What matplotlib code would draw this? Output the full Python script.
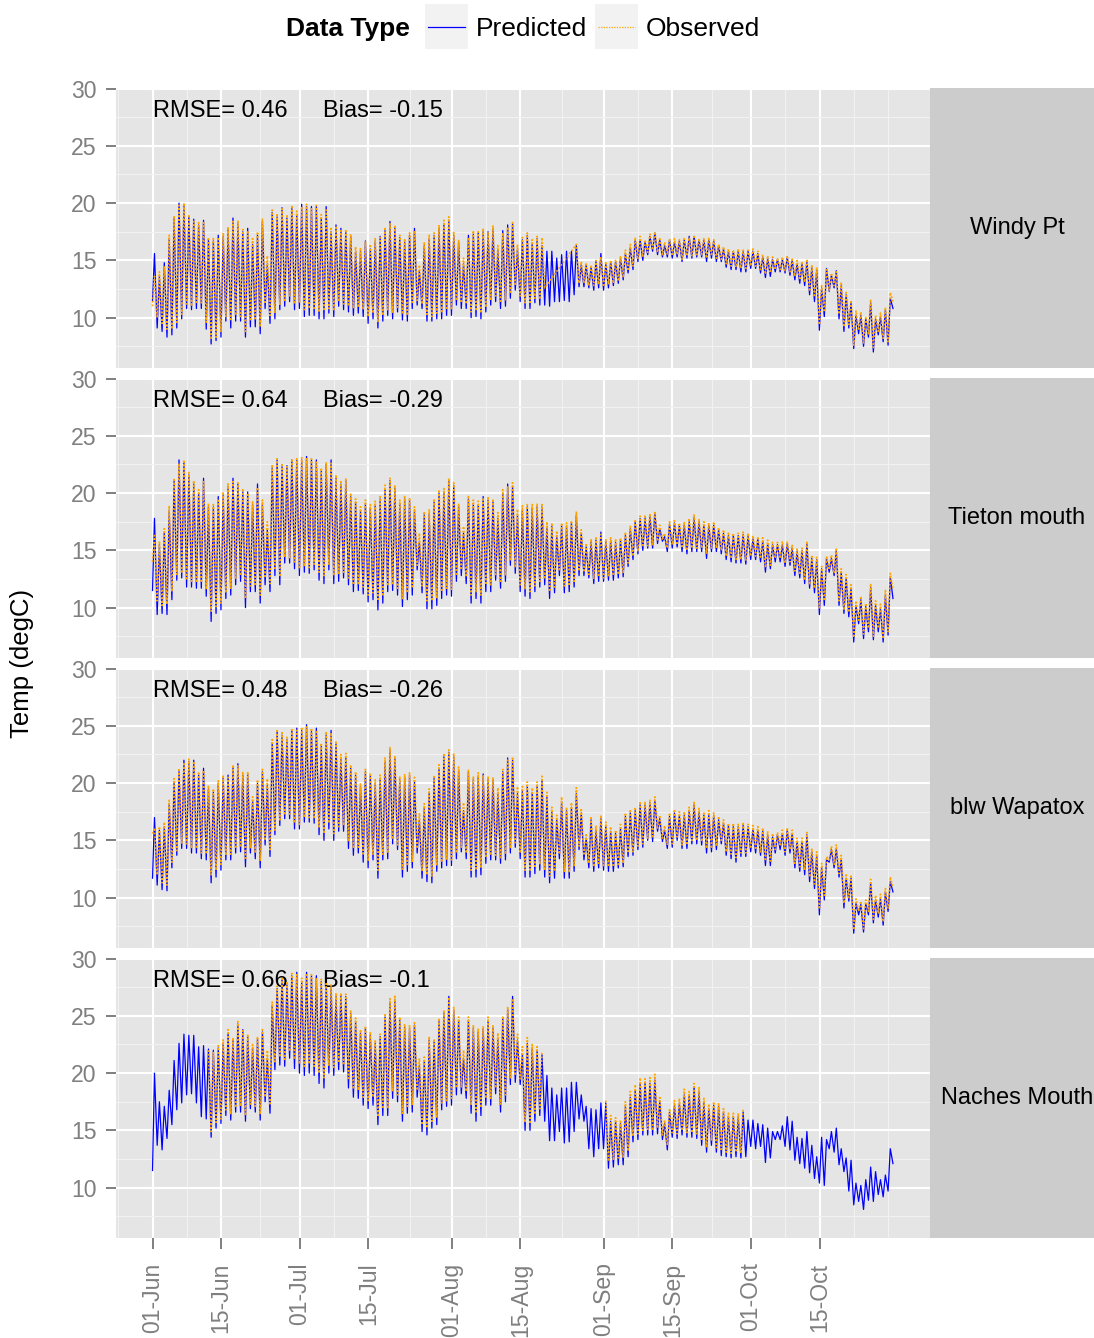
import numpy as np
import pandas as pd
import matplotlib
matplotlib.use("Agg")
import matplotlib.pyplot as plt
from matplotlib.ticker import FixedLocator

plt.rcParams['font.family'] = ['Liberation Sans', 'DejaVu Sans']

nan = np.nan

SITES = ["Windy Pt", "Tieton mouth", "blw Wapatox", "Naches Mouth"]
RMSE = [0.46, 0.64, 0.48, 0.66]
BIAS = [-0.15, -0.29, -0.26, -0.1]

# first reading of each record (01-Jun 00:00)
PRED_START = [11.5, 11.5, 11.7, 11.5]
OBS_START = [11.0, 14.0, 15.6, nan]

# daily highs / lows from 01-Jun to 30-Oct (degC)
windy_pred_max = [
    15.6, 13.6, 14.8, 16.9, 18.7, 20.0, 19.9, 18.8, 18.6, 18.1,
    18.5, 16.8, 16.7, 17.2, 17.1, 17.8, 18.7, 18.2, 17.5, 17.8,
    16.4, 17.2, 18.4, 14.7, 19.2, 18.8, 19.6, 18.7, 19.7, 19.0,
    19.9, 19.7, 19.7, 19.7, 18.7, 19.7, 17.5, 18.1, 17.8, 17.5,
    17.1, 15.8, 15.8, 16.7, 16.0, 16.7, 17.1, 17.6, 18.4, 17.8,
    17.0, 16.6, 17.2, 17.8, 14.1, 16.3, 16.9, 17.2, 17.8, 18.2,
    18.5, 17.2, 16.6, 14.7, 17.2, 17.3, 17.4, 17.5, 17.5, 17.8,
    15.9, 17.6, 18.1, 18.2, 16.0,
    16.8, 17.2, 16.5, 16.9, 16.3, 15.8, 15.8, 15.2, 15.5, 15.8,
    15.8, 16.3, 14.6, 14.6, 14.4, 14.9, 15.6, 14.7, 14.9, 14.9,
    15.2, 15.6, 16.1, 16.8, 16.8, 16.6, 17.1, 17.4, 16.8, 16.3,
    16.8, 16.6, 16.7, 16.8, 17.1, 17.1, 16.8, 16.8, 16.8, 16.7,
    16.3, 16.0, 15.8, 15.8, 15.8, 15.8, 15.8, 15.8, 15.6, 15.3,
    15.2, 15.1, 15.1, 15.1, 15.3, 15.0, 14.7, 14.7, 14.9, 14.4,
    14.2, 12.6, 14.3, 13.7, 14.1, 12.8, 12.0, 11.3, 10.2, 10.2,
    9.9, 11.3, 9.9, 10.1, 10.7, 11.7]
windy_pred_min = [
    9.1, 8.8, 8.3, 8.5, 9.1, 9.9, 10.8, 10.7, 10.8, 10.8,
    9.0, 7.7, 8.0, 8.3, 9.7, 9.1, 9.7, 9.7, 8.3, 9.2,
    9.2, 8.6, 10.8, 9.5, 9.9, 10.7, 11.0, 11.4, 10.7, 10.8,
    10.1, 10.2, 10.2, 9.9, 9.9, 10.4, 10.1, 11.0, 10.7, 10.5,
    10.2, 10.4, 10.1, 9.5, 9.9, 9.1, 9.7, 10.2, 9.9, 10.5,
    9.8, 9.7, 10.8, 11.1, 10.8, 9.7, 9.7, 9.9, 9.9, 10.2,
    10.2, 11.1, 10.8, 10.8, 10.0, 10.1, 9.9, 10.5, 11.1, 11.4,
    10.8, 11.0, 11.7, 12.4, 11.4,
    10.8, 10.8, 11.3, 11.1, 11.1, 11.0, 11.4, 11.4, 11.5, 11.4,
    12.0, 12.7, 12.7, 12.6, 12.4, 12.6, 12.4, 12.6, 12.8, 13.0,
    13.3, 13.9, 14.2, 14.9, 15.0, 15.5, 15.8, 15.5, 15.3, 15.3,
    15.2, 15.3, 14.9, 15.2, 15.2, 15.3, 15.3, 14.9, 15.2, 14.9,
    14.9, 14.4, 14.2, 14.2, 14.0, 14.0, 14.3, 14.3, 13.9, 13.5,
    13.6, 14.0, 14.0, 13.9, 13.7, 13.3, 13.0, 12.8, 12.0, 11.4,
    8.9, 10.1, 12.3, 12.6, 9.9, 8.8, 9.1, 7.3, 8.6, 7.5,
    8.3, 7.0, 8.5, 7.9, 7.6, 10.8]
windy_obs_max = [
    13.6, 14.0, 14.5, 17.2, 18.9, 19.8, 20.0, 19.0, 18.4, 18.3,
    18.3, 17.0, 16.9, 17.0, 17.4, 17.9, 18.4, 18.5, 17.7, 17.6,
    16.9, 17.5, 18.6, 15.4, 19.4, 19.1, 19.5, 19.0, 19.8, 19.3,
    19.7, 19.9, 19.5, 19.8, 19.0, 19.4, 17.9, 18.0, 17.6, 17.7,
    17.3, 16.2, 16.1, 16.6, 16.4, 16.9, 17.0, 17.9, 18.2, 18.1,
    17.2, 16.9, 17.4, 17.6, 14.6, 16.6, 17.2, 17.4, 18.1, 18.5,
    18.8, 17.5, 16.8, 15.2, 17.0, 17.6, 17.5, 17.8, 17.4, 18.0,
    16.3, 17.4, 17.9, 18.3, 16.4,
    17.0, 17.4, 16.8, 17.1, 17.0, nan, nan, nan, nan, nan,
    nan, 16.4, 14.9, 14.8, 14.6, 15.0, 15.3, 14.9, 15.0, 15.1,
    15.4, 15.9, 16.4, 17.0, 17.1, 16.8, 17.3, 17.5, 17.0, 16.6,
    16.9, 16.9, 16.8, 16.9, 17.0, 17.2, 16.9, 16.9, 17.0, 16.8,
    16.4, 16.2, 16.0, 15.9, 16.0, 15.9, 15.9, 16.0, 15.8, 15.5,
    15.4, 15.3, 15.2, 15.3, 15.4, 15.2, 15.0, 14.9, 15.1, 14.6,
    14.4, 12.8, 14.2, 13.9, 14.0, 13.1, 12.2, 11.5, 10.6, 10.5,
    10.1, 11.6, 10.2, 10.4, 10.9, 12.2]
windy_obs_min = [
    10.0, 9.5, 9.0, 9.0, 9.6, 10.3, 11.2, 11.0, 11.2, 11.3,
    9.6, 8.1, 8.3, 8.8, 10.1, 9.7, 10.2, 10.1, 8.8, 9.7,
    9.8, 9.2, 11.2, 10.2, 10.4, 11.1, 11.4, 11.9, 11.2, 11.3,
    10.7, 10.8, 10.7, 10.5, 10.6, 10.8, 10.6, 11.4, 11.2, 11.0,
    10.8, 10.9, 10.7, 10.1, 10.4, 9.6, 10.2, 10.7, 10.4, 10.9,
    10.3, 10.2, 11.2, 11.5, 11.2, 10.3, 10.1, 10.4, 10.4, 10.7,
    10.7, 11.5, 11.3, 11.2, 10.5, 10.6, 10.4, 10.9, 11.5, 11.9,
    11.3, 11.5, 12.1, 12.8, 11.9,
    11.3, 11.2, 11.7, 11.6, 12.6, nan, nan, nan, nan, nan,
    nan, 13.0, 13.0, 12.8, 12.8, 12.9, 12.7, 12.9, 13.0, 13.2,
    13.5, 14.1, 14.5, 15.1, 15.3, 15.7, 15.9, 15.7, 15.5, 15.5,
    15.4, 15.5, 15.1, 15.4, 15.4, 15.5, 15.5, 15.2, 15.4, 15.2,
    15.1, 14.7, 14.5, 14.4, 14.3, 14.3, 14.5, 14.5, 14.2, 13.8,
    13.9, 14.2, 14.2, 14.1, 14.0, 13.6, 13.3, 13.1, 12.3, 11.8,
    9.4, 10.5, 12.4, 12.8, 10.3, 9.2, 9.4, 7.6, 8.9, 7.8,
    8.6, 7.4, 8.8, 8.2, 7.9, 11.4]

tieton_pred_max = [
    17.8, 15.5, 16.5, 18.5, 21.1, 22.9, 22.7, 21.6, 20.8, 20.0,
    21.3, 18.8, 18.8, 19.7, 19.8, 20.6, 21.3, 20.8, 20.1, 20.1,
    19.0, 20.8, 19.0, 16.8, 22.2, 22.9, 22.3, 22.4, 22.9, 22.9,
    22.9, 23.2, 22.9, 22.9, 21.9, 22.5, 22.9, 21.3, 20.8, 21.1,
    19.7, 19.2, 18.4, 19.1, 18.7, 19.0, 19.5, 20.4, 21.1, 20.4,
    19.1, 19.5, 19.4, 18.4, 15.8, 18.1, 18.2, 19.2, 20.0, 20.1,
    21.1, 20.7, 18.8, 16.5, 19.5, 19.1, 19.0, 19.7, 19.4, 19.2,
    17.8, 20.0, 20.8, 20.6, 18.1,
    18.5, 18.8, 18.7, 18.8, 18.8, 17.1, 17.1, 16.3, 17.2, 17.1,
    17.4, 18.1, 16.5, 15.3, 15.8, 15.9, 16.6, 15.8, 15.9, 15.7,
    15.9, 16.3, 16.9, 17.5, 17.8, 17.8, 18.0, 18.3, 16.9, 16.2,
    17.3, 17.4, 17.2, 17.2, 17.5, 17.9, 17.5, 17.2, 17.2, 17.2,
    16.8, 16.5, 16.3, 16.3, 16.3, 16.4, 16.3, 16.0, 16.0, 15.8,
    15.6, 15.5, 15.5, 15.5, 15.6, 15.2, 14.9, 15.0, 15.6, 14.3,
    14.2, 13.4, 14.3, 14.3, 15.0, 13.1, 12.6, 11.7, 10.2, 10.7,
    10.1, 11.8, 10.2, 9.9, 11.1, 12.7]
tieton_pred_min = [
    9.4, 9.5, 9.4, 10.7, 12.4, 12.6, 11.8, 11.8, 11.7, 11.7,
    11.0, 8.8, 9.5, 9.8, 10.8, 11.1, 12.0, 12.3, 10.0, 11.4,
    11.4, 10.4, 12.0, 11.4, 12.8, 12.0, 13.9, 13.9, 13.4, 12.8,
    13.1, 13.0, 13.3, 12.4, 12.1, 13.3, 12.1, 12.3, 12.6, 12.0,
    11.4, 11.5, 11.2, 10.5, 10.7, 9.8, 10.4, 11.4, 11.5, 11.1,
    10.1, 10.7, 11.1, 13.3, 11.3, 9.9, 9.9, 10.2, 10.8, 11.1,
    11.0, 12.3, 12.8, 12.1, 10.4, 10.8, 10.4, 11.4, 11.4, 12.4,
    11.7, 12.3, 13.7, 13.0, 11.4,
    11.0, 10.8, 11.4, 11.8, 12.0, 10.8, 11.3, 12.8, 11.3, 11.4,
    11.8, 12.8, 12.8, 12.6, 12.1, 12.3, 12.3, 12.4, 12.4, 12.6,
    12.7, 13.6, 14.2, 14.7, 15.0, 15.2, 15.2, 15.6, 15.8, 14.9,
    15.2, 15.3, 14.9, 14.7, 14.9, 14.9, 14.9, 14.3, 14.9, 14.9,
    14.7, 14.2, 14.0, 13.9, 13.9, 13.8, 14.2, 14.2, 14.0, 13.1,
    13.4, 14.0, 14.0, 13.6, 13.7, 12.8, 12.6, 12.1, 11.7, 11.3,
    9.4, 10.2, 13.1, 12.8, 10.2, 9.5, 9.2, 7.0, 8.6, 7.3,
    7.9, 7.2, 7.9, 7.0, 7.6, 10.8]
tieton_obs_max = [
    16.3, 15.8, 16.9, 18.9, 21.3, 22.6, 22.9, 21.8, 21.1, 20.3,
    21.0, 19.1, 19.0, 19.5, 20.1, 20.8, 21.0, 20.9, 20.4, 20.0,
    19.3, 20.5, 19.4, 17.5, 22.5, 23.0, 22.6, 22.3, 23.0, 23.0,
    23.1, 23.0, 23.0, 22.7, 22.2, 22.7, 22.6, 21.6, 21.0, 21.3,
    20.0, 19.5, 18.8, 19.4, 19.0, 19.3, 19.7, 20.7, 21.3, 20.7,
    19.4, 19.7, 19.6, 18.8, 16.5, 18.4, 18.6, 19.5, 20.3, 20.4,
    21.3, 20.9, 19.1, 17.1, 19.8, 19.4, 19.3, 19.6, 19.7, 19.5,
    18.3, 20.3, 20.6, 20.9, 18.6,
    18.9, 19.0, 19.0, 19.1, 19.0, 17.5, 17.4, 16.7, 17.4, 17.4,
    17.6, 18.4, 16.8, 15.6, 16.0, 16.2, 16.4, 16.0, 16.1, 16.0,
    16.1, 16.6, 17.1, 17.7, 18.0, 18.1, 18.2, 18.4, 17.2, 16.5,
    17.5, 17.6, 17.4, 17.5, 17.8, 18.1, 17.7, 17.5, 17.4, 17.5,
    17.0, 16.8, 16.6, 16.5, 16.5, 16.6, 16.5, 16.3, 16.2, 16.1,
    15.9, 15.7, 15.7, 15.8, 15.8, 15.5, 15.2, 15.2, 15.8, 14.6,
    14.4, 13.6, 14.5, 14.6, 15.2, 13.4, 12.9, 12.0, 10.6, 11.0,
    10.4, 12.1, 10.6, 10.3, 11.5, 13.0]
tieton_obs_min = [
    10.6, 10.2, 10.3, 11.4, 12.9, 13.0, 12.4, 12.3, 12.2, 12.2,
    11.6, 9.7, 10.1, 10.4, 11.3, 11.7, 12.5, 12.8, 10.8, 11.9,
    11.9, 11.1, 12.6, 12.1, 13.3, 12.7, 14.4, 14.3, 14.0, 13.4,
    13.6, 13.5, 13.8, 13.1, 12.8, 13.8, 12.8, 12.9, 13.1, 12.6,
    12.0, 12.0, 11.8, 11.1, 11.3, 10.6, 11.0, 11.9, 12.0, 11.7,
    10.8, 11.3, 11.7, 13.7, 11.9, 10.6, 10.6, 10.8, 11.4, 11.7,
    11.6, 12.8, 13.3, 12.7, 11.1, 11.4, 11.1, 12.0, 12.0, 12.9,
    12.3, 12.8, 14.1, 13.5, 12.0,
    11.6, 11.4, 11.9, 12.3, 12.5, 11.4, 11.8, 13.2, 11.9, 11.9,
    12.3, 13.2, 13.1, 12.9, 12.5, 12.7, 12.6, 12.8, 12.8, 12.9,
    13.0, 13.9, 14.5, 14.9, 15.3, 15.4, 15.5, 15.8, 16.0, 15.2,
    15.5, 15.5, 15.2, 15.0, 15.2, 15.2, 15.2, 14.7, 15.2, 15.2,
    15.0, 14.5, 14.3, 14.2, 14.2, 14.1, 14.5, 14.5, 14.3, 13.5,
    13.7, 14.3, 14.3, 13.9, 14.0, 13.2, 12.9, 12.4, 12.0, 11.7,
    9.9, 10.6, 13.3, 13.0, 10.6, 9.8, 9.6, 7.4, 8.9, 7.7,
    8.2, 7.5, 8.2, 7.3, 7.9, 11.6]

wapatox_pred_max = [
    17.0, 15.9, 16.2, 18.2, 20.1, 21.0, 22.0, 21.9, 22.0, 20.7,
    21.3, 19.5, 19.2, 20.0, 20.5, 20.7, 21.4, 21.7, 20.7, 20.8,
    18.4, 20.0, 21.0, 19.8, 23.5, 24.5, 24.2, 23.8, 24.6, 24.8,
    24.6, 25.1, 24.5, 24.8, 23.2, 24.2, 24.6, 23.4, 22.2, 22.3,
    21.3, 20.7, 19.7, 21.0, 20.6, 20.0, 20.4, 21.9, 22.9, 22.2,
    20.3, 20.5, 20.7, 20.1, 16.8, 17.8, 19.2, 20.4, 21.3, 22.3,
    22.7, 22.3, 21.1, 17.6, 21.0, 20.3, 20.6, 20.8, 20.3, 20.3,
    19.1, 21.0, 22.2, 22.0, 19.1,
    19.3, 19.8, 19.2, 19.8, 20.3, 18.8, 17.5, 16.8, 18.4, 17.6,
    17.9, 19.1, 17.4, 15.2, 16.8, 15.9, 16.9, 16.3, 15.8, 15.6,
    16.0, 17.1, 17.4, 17.6, 18.1, 18.1, 18.3, 18.5, 16.9, 15.9,
    17.1, 17.4, 17.2, 17.2, 17.6, 18.1, 17.5, 17.2, 17.2, 17.2,
    16.8, 16.5, 16.3, 16.2, 16.2, 16.3, 16.2, 16.0, 15.9, 15.8,
    15.5, 15.3, 15.5, 15.6, 15.9, 15.6, 14.9, 14.9, 15.5, 14.0,
    13.7, 12.7, 13.3, 14.2, 14.3, 13.4, 11.7, 11.7, 9.5, 9.4,
    9.5, 11.3, 9.8, 9.9, 10.5, 11.4]
wapatox_pred_min = [
    11.1, 10.7, 10.6, 12.6, 13.7, 14.3, 14.3, 13.9, 13.9, 13.4,
    13.3, 11.3, 11.8, 12.4, 13.3, 13.3, 13.9, 14.0, 12.7, 13.9,
    13.4, 12.6, 14.6, 13.6, 15.5, 16.3, 16.9, 16.9, 16.0, 16.0,
    16.6, 16.6, 16.5, 15.5, 15.0, 16.0, 15.0, 15.8, 15.8, 14.3,
    13.7, 13.9, 13.1, 12.6, 13.3, 11.7, 13.3, 13.4, 14.7, 14.2,
    11.8, 12.3, 12.6, 13.9, 11.7, 11.4, 11.3, 12.3, 12.6, 12.8,
    12.8, 13.4, 14.0, 13.4, 11.8, 11.8, 12.0, 13.0, 13.3, 13.3,
    13.0, 13.3, 13.9, 14.4, 13.4,
    11.8, 11.8, 12.1, 12.4, 11.8, 11.3, 11.7, 13.4, 11.7, 11.7,
    12.3, 14.2, 13.3, 12.6, 12.3, 12.6, 12.4, 12.3, 12.3, 12.6,
    12.7, 13.6, 13.7, 14.2, 14.4, 15.0, 14.9, 15.8, 14.9, 14.3,
    14.4, 15.0, 14.3, 14.3, 14.7, 14.7, 14.6, 13.9, 14.0, 14.2,
    14.7, 13.7, 13.4, 13.1, 13.6, 13.6, 14.0, 13.9, 13.7, 12.8,
    12.8, 13.9, 14.2, 13.7, 13.9, 12.6, 12.3, 12.0, 11.4, 10.8,
    8.5, 9.8, 13.1, 12.6, 11.8, 9.1, 9.7, 6.9, 8.5, 7.0,
    8.5, 7.8, 8.3, 7.6, 8.8, 10.5]
wapatox_obs_max = [
    16.1, 16.2, 16.6, 18.5, 20.4, 21.3, 21.8, 22.1, 21.9, 21.0,
    21.1, 19.8, 19.5, 20.2, 20.7, 20.5, 21.6, 21.5, 21.0, 21.0,
    18.8, 20.3, 21.2, 20.4, 23.8, 24.7, 24.4, 24.0, 24.8, 24.6,
    24.9, 24.9, 24.8, 24.6, 23.5, 24.5, 24.4, 23.7, 22.5, 22.6,
    21.6, 21.0, 20.0, 21.2, 20.9, 20.3, 20.7, 22.2, 23.1, 22.4,
    20.6, 20.8, 20.9, 20.5, 17.4, 18.2, 19.5, 20.7, 21.6, 22.6,
    22.9, 22.6, 21.4, 18.3, 21.2, 20.6, 20.9, 20.7, 20.6, 20.5,
    19.6, 21.2, 22.0, 22.3, 19.7,
    19.7, 20.1, 19.6, 20.1, 20.6, 19.2, 17.9, 17.2, 18.8, 17.9,
    18.3, 19.6, 17.8, 15.6, 17.1, 16.3, 17.2, 16.6, 16.2, 15.9,
    16.4, 17.4, 17.7, 17.9, 18.4, 18.4, 18.5, 18.8, 17.2, 16.3,
    17.4, 17.7, 17.5, 17.5, 17.9, 18.4, 17.8, 17.5, 17.6, 17.4,
    17.1, 16.8, 16.5, 16.5, 16.4, 16.6, 16.4, 16.3, 16.2, 16.1,
    15.8, 15.6, 15.7, 15.9, 16.1, 15.9, 15.2, 15.2, 15.7, 14.3,
    14.0, 13.0, 13.6, 14.5, 14.6, 13.7, 12.1, 12.0, 9.9, 9.7,
    9.8, 11.6, 10.2, 10.3, 10.8, 11.8]
wapatox_obs_min = [
    12.0, 11.3, 11.1, 13.1, 14.1, 14.7, 14.7, 14.3, 14.3, 13.9,
    13.8, 12.0, 12.4, 12.9, 13.7, 13.8, 14.3, 14.4, 13.3, 14.3,
    13.9, 13.2, 15.0, 14.2, 15.9, 16.7, 17.2, 17.3, 16.5, 16.4,
    17.0, 17.0, 16.9, 16.1, 15.6, 16.5, 15.6, 16.2, 16.3, 14.9,
    14.3, 14.4, 13.7, 13.2, 13.8, 12.4, 13.8, 13.9, 15.1, 14.6,
    12.5, 12.9, 13.1, 14.3, 12.3, 12.0, 11.9, 12.8, 13.1, 13.3,
    13.3, 13.9, 14.4, 13.9, 12.4, 12.4, 12.6, 13.5, 13.7, 13.7,
    13.5, 13.8, 14.3, 14.8, 13.9,
    12.4, 12.3, 12.6, 12.9, 12.4, 11.9, 12.3, 13.8, 12.3, 12.2,
    12.8, 14.5, 13.7, 13.0, 12.7, 13.0, 12.8, 12.7, 12.7, 12.9,
    13.0, 13.9, 14.0, 14.5, 14.7, 15.2, 15.2, 16.0, 15.2, 14.6,
    14.7, 15.3, 14.6, 14.6, 15.0, 15.0, 14.9, 14.3, 14.3, 14.5,
    15.0, 14.0, 13.8, 13.5, 13.9, 13.9, 14.3, 14.2, 14.0, 13.2,
    13.2, 14.2, 14.5, 14.0, 14.2, 13.0, 12.7, 12.4, 11.8, 11.2,
    9.0, 10.2, 13.3, 12.9, 12.1, 9.5, 10.0, 7.2, 8.8, 7.3,
    8.8, 8.1, 8.6, 7.9, 9.1, 10.9]

naches_pred_max = [
    20.0, 17.5, 17.1, 18.5, 21.1, 22.6, 23.4, 23.3, 23.3, 22.3,
    22.4, 22.1, 22.0, 22.2, 22.6, 23.5, 22.9, 24.3, 23.8, 23.2,
    22.2, 23.0, 23.6, 21.3, 25.9, 27.4, 28.3, 27.7, 28.5, 28.8,
    28.0, 28.8, 28.5, 28.5, 28.0, 28.0, 27.5, 26.7, 26.8, 26.7,
    25.2, 24.5, 23.5, 23.9, 23.3, 22.6, 23.2, 24.9, 26.2, 26.4,
    24.6, 24.0, 23.9, 24.2, 20.7, 21.0, 22.9, 22.7, 24.5, 25.2,
    26.7, 25.5, 24.6, 21.3, 24.6, 23.9, 23.6, 23.9, 24.6, 23.9,
    23.0, 24.8, 25.6, 26.7, 22.9,
    21.6, 22.6, 22.2, 22.0, 21.6, 19.8, 18.7, 18.1, 18.7, 18.7,
    19.2, 19.2, 18.1, 17.1, 16.9, 16.8, 17.4, 17.4, 15.8, 15.8,
    15.6, 17.1, 17.9, 18.5, 19.1, 19.2, 19.1, 19.4, 17.6, 15.6,
    16.6, 17.2, 17.4, 18.1, 18.1, 18.8, 18.4, 17.4, 16.9, 17.2,
    17.1, 16.6, 16.2, 16.2, 16.2, 16.6, 15.9, 15.9, 15.6, 15.5,
    15.2, 14.9, 14.9, 15.4, 16.2, 15.8, 14.4, 14.3, 14.9, 13.7,
    12.7, 14.4, 14.2, 14.9, 15.2, 13.4, 12.6, 12.4, 10.4, 10.2,
    10.7, 11.8, 11.4, 10.7, 11.1, 13.4]
naches_pred_min = [
    13.7, 13.3, 14.3, 15.5, 16.8, 17.4, 18.1, 18.2, 17.4, 16.2,
    16.0, 14.4, 15.2, 15.6, 16.3, 15.9, 16.6, 16.6, 15.8, 16.9,
    16.6, 15.9, 17.5, 16.5, 20.3, 20.7, 20.6, 21.3, 20.4, 20.0,
    19.8, 20.0, 19.8, 19.1, 18.7, 20.0, 19.8, 20.3, 20.1, 18.7,
    17.9, 17.8, 17.2, 16.9, 17.2, 15.5, 16.3, 16.3, 17.8, 17.5,
    15.8, 16.5, 16.6, 17.9, 14.9, 14.6, 15.2, 15.5, 16.8, 17.1,
    17.2, 18.1, 18.2, 17.8, 16.5, 15.8, 16.3, 17.2, 17.2, 18.2,
    16.6, 17.5, 19.0, 19.2, 19.0,
    15.0, 15.0, 15.8, 16.3, 15.8, 14.1, 14.1, 14.9, 13.9, 14.0,
    14.9, 16.0, 15.8, 13.4, 12.7, 13.4, 13.4, 11.7, 11.8, 12.0,
    12.0, 12.7, 14.0, 14.2, 14.6, 14.6, 14.6, 14.7, 14.2, 13.3,
    14.4, 14.3, 14.6, 14.4, 14.4, 14.3, 13.7, 13.1, 13.7, 13.1,
    12.8, 12.7, 12.6, 12.7, 12.6, 12.7, 13.6, 13.4, 13.6, 12.2,
    12.6, 14.2, 14.2, 13.6, 13.3, 12.4, 12.1, 11.7, 11.3, 10.8,
    10.4, 10.2, 13.4, 13.1, 12.0, 11.4, 9.7, 8.5, 8.8, 8.1,
    8.9, 8.8, 9.4, 9.2, 9.7, 12.1]
naches_obs_max = [
    nan, nan, nan, nan, nan, nan, nan, nan, nan, nan,
    nan, 22.0, 21.8, 22.4, 22.9, 23.8, 23.1, 24.5, 23.7, 23.4,
    22.5, 23.2, 23.8, 22.0, 26.2, 27.6, 28.4, 28.0, 28.7, 28.6,
    28.3, 28.7, 28.6, 28.3, 28.2, 27.8, 27.7, 27.0, 27.0, 26.9,
    25.5, 24.8, 23.8, 24.1, 23.6, 22.9, 23.4, 25.2, 26.5, 26.8,
    24.9, 24.3, 24.2, 24.4, 21.3, 21.4, 23.2, 23.0, 24.8, 25.5,
    26.6, 25.8, 24.9, 22.0, 24.9, 24.2, 23.9, 24.1, 24.9, 24.2,
    23.5, 25.0, 25.8, 26.5, 23.4,
    22.3, 23.1, 22.5, 22.3, 21.9, nan, nan, nan, nan, nan,
    nan, nan, nan, nan, nan, nan, nan, 17.6, 16.3, 16.1,
    15.9, 17.5, 18.4, 19.0, 19.6, 19.5, 19.6, 19.9, 18.0, 15.9,
    16.9, 17.6, 17.8, 18.6, 18.4, 19.1, 18.8, 17.8, 17.3, 17.5,
    17.4, 16.9, 16.5, 16.5, 16.5, 16.9, nan, nan, nan, nan,
    nan, nan, nan, nan, nan, nan, nan, nan, nan, nan,
    nan, nan, nan, nan, nan, nan, nan, nan, nan, nan,
    nan, nan, nan, nan, nan, nan]
naches_obs_min = [
    nan, nan, nan, nan, nan, nan, nan, nan, nan, nan,
    nan, 14.9, 15.7, 16.0, 16.8, 16.4, 17.0, 17.1, 16.3, 17.3,
    17.1, 16.4, 17.9, 17.2, 21.0, 21.4, 21.2, 21.9, 21.2, 20.8,
    20.6, 20.8, 20.6, 20.0, 19.6, 20.7, 20.5, 20.9, 20.7, 19.4,
    18.6, 18.5, 17.9, 17.6, 17.9, 16.2, 16.9, 16.9, 18.4, 18.1,
    16.5, 17.1, 17.2, 18.5, 15.5, 15.2, 15.8, 16.1, 17.4, 17.6,
    17.8, 18.7, 18.8, 18.4, 17.2, 16.5, 17.0, 17.8, 17.8, 18.7,
    17.3, 18.1, 19.6, 19.8, 19.5,
    15.7, 15.6, 16.4, 16.9, nan, nan, nan, nan, nan, nan,
    nan, nan, nan, nan, nan, nan, nan, 12.3, 12.4, 12.6,
    12.6, 13.2, 14.5, 14.7, 15.0, 15.1, 15.0, 15.2, 14.6, 13.7,
    14.8, 14.7, 15.0, 14.8, 14.8, 14.7, 14.1, 13.5, 14.1, 13.5,
    13.2, 13.1, 13.0, 13.1, 13.0, nan, nan, nan, nan, nan,
    nan, nan, nan, nan, nan, nan, nan, nan, nan, nan,
    nan, nan, nan, nan, nan, nan, nan, nan, nan, nan,
    nan, nan, nan, nan, nan, nan]

PRED_MAX = [windy_pred_max, tieton_pred_max, wapatox_pred_max, naches_pred_max]
PRED_MIN = [windy_pred_min, tieton_pred_min, wapatox_pred_min, naches_pred_min]
OBS_MAX = [windy_obs_max, tieton_obs_max, wapatox_obs_max, naches_obs_max]
OBS_MIN = [windy_obs_min, tieton_obs_min, wapatox_obs_min, naches_obs_min]
# at Windy Pt the logger gap has no rows, so the line is joined across it
JOINED = ["Windy Pt"]

BLUE = "#0000FF"
ORANGE = "#FFA500"
GREY_TXT = "#7F7F7F"
DOTTED = (0, (1, 1.1))


def diurnal(start, highs, lows):
    # highs in the afternoon, lows just before dawn
    days = np.arange(len(highs))
    t = np.concatenate([[0.0], np.column_stack([days + 0.4, days + 0.95]).ravel()])
    v = np.concatenate([[start], np.column_stack([highs, lows]).ravel()])
    return t, v


# date axis: breaks on the 1st and 15th, minor breaks in between
breaks = pd.date_range("2013-06-01", "2013-10-15", freq="SMS")
major = np.array((breaks - breaks[0]).days, dtype=float)
step = major[1] - major[0]
edges = np.concatenate([[major[0] - step], major, [major[-1] + step]])
minor = np.concatenate([(edges[:-1] + edges[1:]) / 2, edges[[0, -1]]])
labels = breaks.strftime("%d-%b")

W, H = 1094, 1338
fig = plt.figure(figsize=(W / 100, H / 100), dpi=100)


def rect(x0, y0, w, h):
    return [x0 / W, 1 - (y0 + h) / H, w / W, h / H]


n_days = len(windy_pred_max)
pad = 0.05 * (n_days - 0.05)
for i, site in enumerate(SITES):
    top = 88 + 290 * i
    ax = fig.add_axes(rect(115.5, top, 814.5, 279.5))
    ax.set_facecolor("#E5E5E5")
    for s in ax.spines.values():
        s.set_visible(False)
    ax.set_xlim(-pad, n_days + pad - 0.05)
    ax.set_ylim(5.65, 30.05)

    ax.xaxis.set_major_locator(FixedLocator(major))
    ax.xaxis.set_minor_locator(FixedLocator(minor))
    ax.yaxis.set_major_locator(FixedLocator([10, 15, 20, 25, 30]))
    ax.yaxis.set_minor_locator(FixedLocator([7.5, 12.5, 17.5, 22.5, 27.5]))
    ax.grid(which="minor", color="#F2F2F2", lw=0.75)
    ax.grid(which="major", color="white", lw=1.5)
    ax.set_axisbelow(True)
    ax.tick_params(which="minor", length=0)
    ax.tick_params(axis="y", which="major", length=7.5, width=1.4,
                   color=GREY_TXT, labelcolor=GREY_TXT, labelsize=16.6, pad=6)
    if i < 3:
        ax.tick_params(axis="x", which="major", length=0, labelbottom=False)
    else:
        ax.set_xticklabels(labels)
        ax.tick_params(axis="x", which="major", length=8, width=1.4,
                       color=GREY_TXT, labelcolor=GREY_TXT, labelsize=16.6,
                       pad=10, labelrotation=90)

    tp, vp = diurnal(PRED_START[i], PRED_MAX[i], PRED_MIN[i])
    to, vo = diurnal(OBS_START[i], OBS_MAX[i], OBS_MIN[i])
    if site in JOINED:
        keep = ~np.isnan(vo)
        to, vo = to[keep], vo[keep]
    ax.plot(tp, vp, color=BLUE, lw=0.9, zorder=3)
    ax.plot(to, vo, color=ORANGE, lw=1.25, ls=DOTTED, zorder=4)

    ax.text(0, 27.55, f"RMSE= {RMSE[i]}", fontsize=17, ha="left", va="baseline")
    ax.text(34.7, 27.55, f"Bias= {BIAS[i]}", fontsize=17, ha="left", va="baseline")

    strip = fig.add_axes(rect(930, top, 164, 279.5))
    strip.set_facecolor("#CCCCCC")
    strip.set_xticks([])
    strip.set_yticks([])
    for s in strip.spines.values():
        s.set_visible(False)
    strip.text(87 / 164, 0.5, site, fontsize=17, ha="center", va="center",
               transform=strip.transAxes)

fig.text(22 / W, 1 - 663 / H, "Temp (degC)", rotation=90, fontsize=18.5,
         ha="center", va="center")

# legend across the top
fig.text(286 / W, 1 - 36 / H, "Data Type", fontsize=19, fontweight="bold",
         ha="left", va="baseline")
for x0, colour, style, name in [(425, BLUE, "-", "Predicted"),
                                (595, ORANGE, DOTTED, "Observed")]:
    key = fig.add_axes(rect(x0, 4, 43, 45))
    key.set_facecolor("#F2F2F2")
    key.set_xlim(0, 1)
    key.set_ylim(0, 1)
    key.set_xticks([])
    key.set_yticks([])
    for s in key.spines.values():
        s.set_visible(False)
    key.plot([0.08, 0.92], [0.5, 0.5], color=colour, ls=style, lw=0.9)
    fig.text((x0 + 50.5) / W, 1 - 36 / H, name, fontsize=19,
             ha="left", va="baseline")

fig.savefig("out.png", dpi=100)
